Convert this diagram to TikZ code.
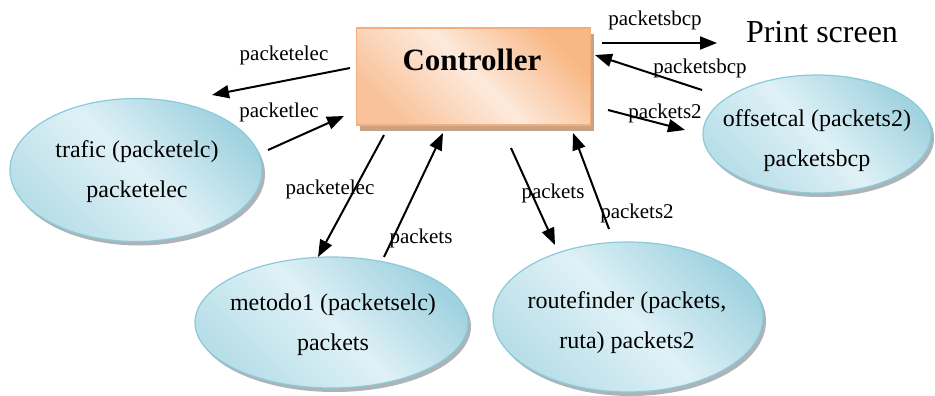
\documentclass[tikz,border=0pt]{standalone}
\usepackage{fontspec}
\setmainfont{Liberation Serif}
\usetikzlibrary{arrows.meta,shapes.geometric,shadows}

\definecolor{procfill}{HTML}{DFF1F6}
\definecolor{procedge}{HTML}{A0D2E0}
\definecolor{procedgelow}{HTML}{B8DEE8}
\definecolor{procline}{HTML}{8ACAD9}
\definecolor{procshadow}{HTML}{ADB4B8}
\definecolor{ctrldark}{HTML}{F8B886}
\definecolor{ctrllow}{HTML}{F9C29A}
\definecolor{ctrllight}{HTML}{FDEADC}
\definecolor{ctrlline}{HTML}{F4AE7E}
\definecolor{ctrlshadow}{HTML}{C9A283}

\tikzset{
  process/.style={ellipse, inner sep=0pt, draw=procline, line width=1.2pt,
    top color=procedge, bottom color=procedgelow, middle color=procfill,
    shading angle=-45,
    general shadow={fill=procshadow, shadow xshift=3pt, shadow yshift=-4pt}},
  proctext/.style={align=center, font=\fontsize{24}{40}\selectfont},
  ctrlbox/.style={rectangle, inner sep=0pt, draw=ctrlline, line width=1.5pt,
    top color=ctrldark, bottom color=ctrllow, middle color=ctrllight,
    shading angle=-45,
    general shadow={fill=ctrlshadow, shadow xshift=3pt, shadow yshift=-6pt}},
  flow/.style={line width=2pt, -{Triangle[length=17pt,width=13pt]}},
  flowlabel/.style={font=\fontsize{21}{24}\selectfont, inner sep=0pt},
}

\begin{document}
\begin{tikzpicture}[x=1pt,y=-1pt]
\useasboundingbox (0,0) rectangle (935,396);

% controller block
\node[ctrlbox, minimum width=234pt, minimum height=97pt] (ctrl) at (473.5,76.5) {};
\node[font=\fontsize{31}{36}\selectfont\bfseries] (ctrllabel) at (472,60) {Controller};

% processes
\node[process, minimum width=252pt, minimum height=143pt] (trafic) at (136,170) {};
\node[proctext] (trafictext) at (137,172) {trafic (packetelc)\\packetelec};

\node[process, minimum width=228pt, minimum height=118pt] (offset) at (817,134) {};
\node[proctext] (offsettext) at (817,141) {offsetcal (packets2)\\packetsbcp};

\node[process, minimum width=273pt, minimum height=131pt] (metodo) at (331.5,322.5) {};
\node[proctext] (metodotext) at (333,325) {metodo1 (packetselc)\\packets};

\node[process, minimum width=270pt, minimum height=150pt] (route) at (628,317) {};
\node[proctext] (routetext) at (627,323) {routefinder (packets,\\ruta) packets2};

\node[font=\fontsize{32}{36}\selectfont] (printscreen) at (822,32) {Print screen};

% connector ends
\coordinate (a1s) at (350,68);  \coordinate (a1e) at (212,95);
\coordinate (a2s) at (268,150); \coordinate (a2e) at (344,116);
\coordinate (a3s) at (384,135); \coordinate (a3e) at (318,257);
\coordinate (a4s) at (384,257); \coordinate (a4e) at (443,133);
\coordinate (a5s) at (511,148); \coordinate (a5e) at (555,245);
\coordinate (a6s) at (609,229); \coordinate (a6e) at (573,133);
\coordinate (a7s) at (602,43);  \coordinate (a7e) at (717,43);
\coordinate (a8s) at (702,90);  \coordinate (a8e) at (595,55);
\coordinate (a9s) at (608,110); \coordinate (a9e) at (685,130);

% data flows
\draw[flow] (a1s) -- (a1e);
\draw[flow] (a2s) -- (a2e);
\draw[flow] (a3s) -- (a3e);
\draw[flow] (a4s) -- (a4e);
\draw[flow] (a5s) -- (a5e);
\draw[flow] (a6s) -- (a6e);
\draw[flow] (a7s) -- (a7e);
\draw[flow] (a8s) -- (a8e);
\draw[flow] (a9s) -- (a9e);

% flow labels
\node[flowlabel] (l1) at (284,55)  {packetelec};
\node[flowlabel] (l2) at (279,112) {packetlec};
\node[flowlabel] (l3) at (330,189) {packetelec};
\node[flowlabel] (l4) at (421,238) {packets};
\node[flowlabel] (l5) at (553,193) {packets};
\node[flowlabel] (l6) at (637,213) {packets2};
\node[flowlabel] (l7) at (655,20)  {packetsbcp};
\node[flowlabel] (l8) at (700,68)  {packetsbcp};
\node[flowlabel] (l9) at (665,113) {packets2};
\end{tikzpicture}
\end{document}
